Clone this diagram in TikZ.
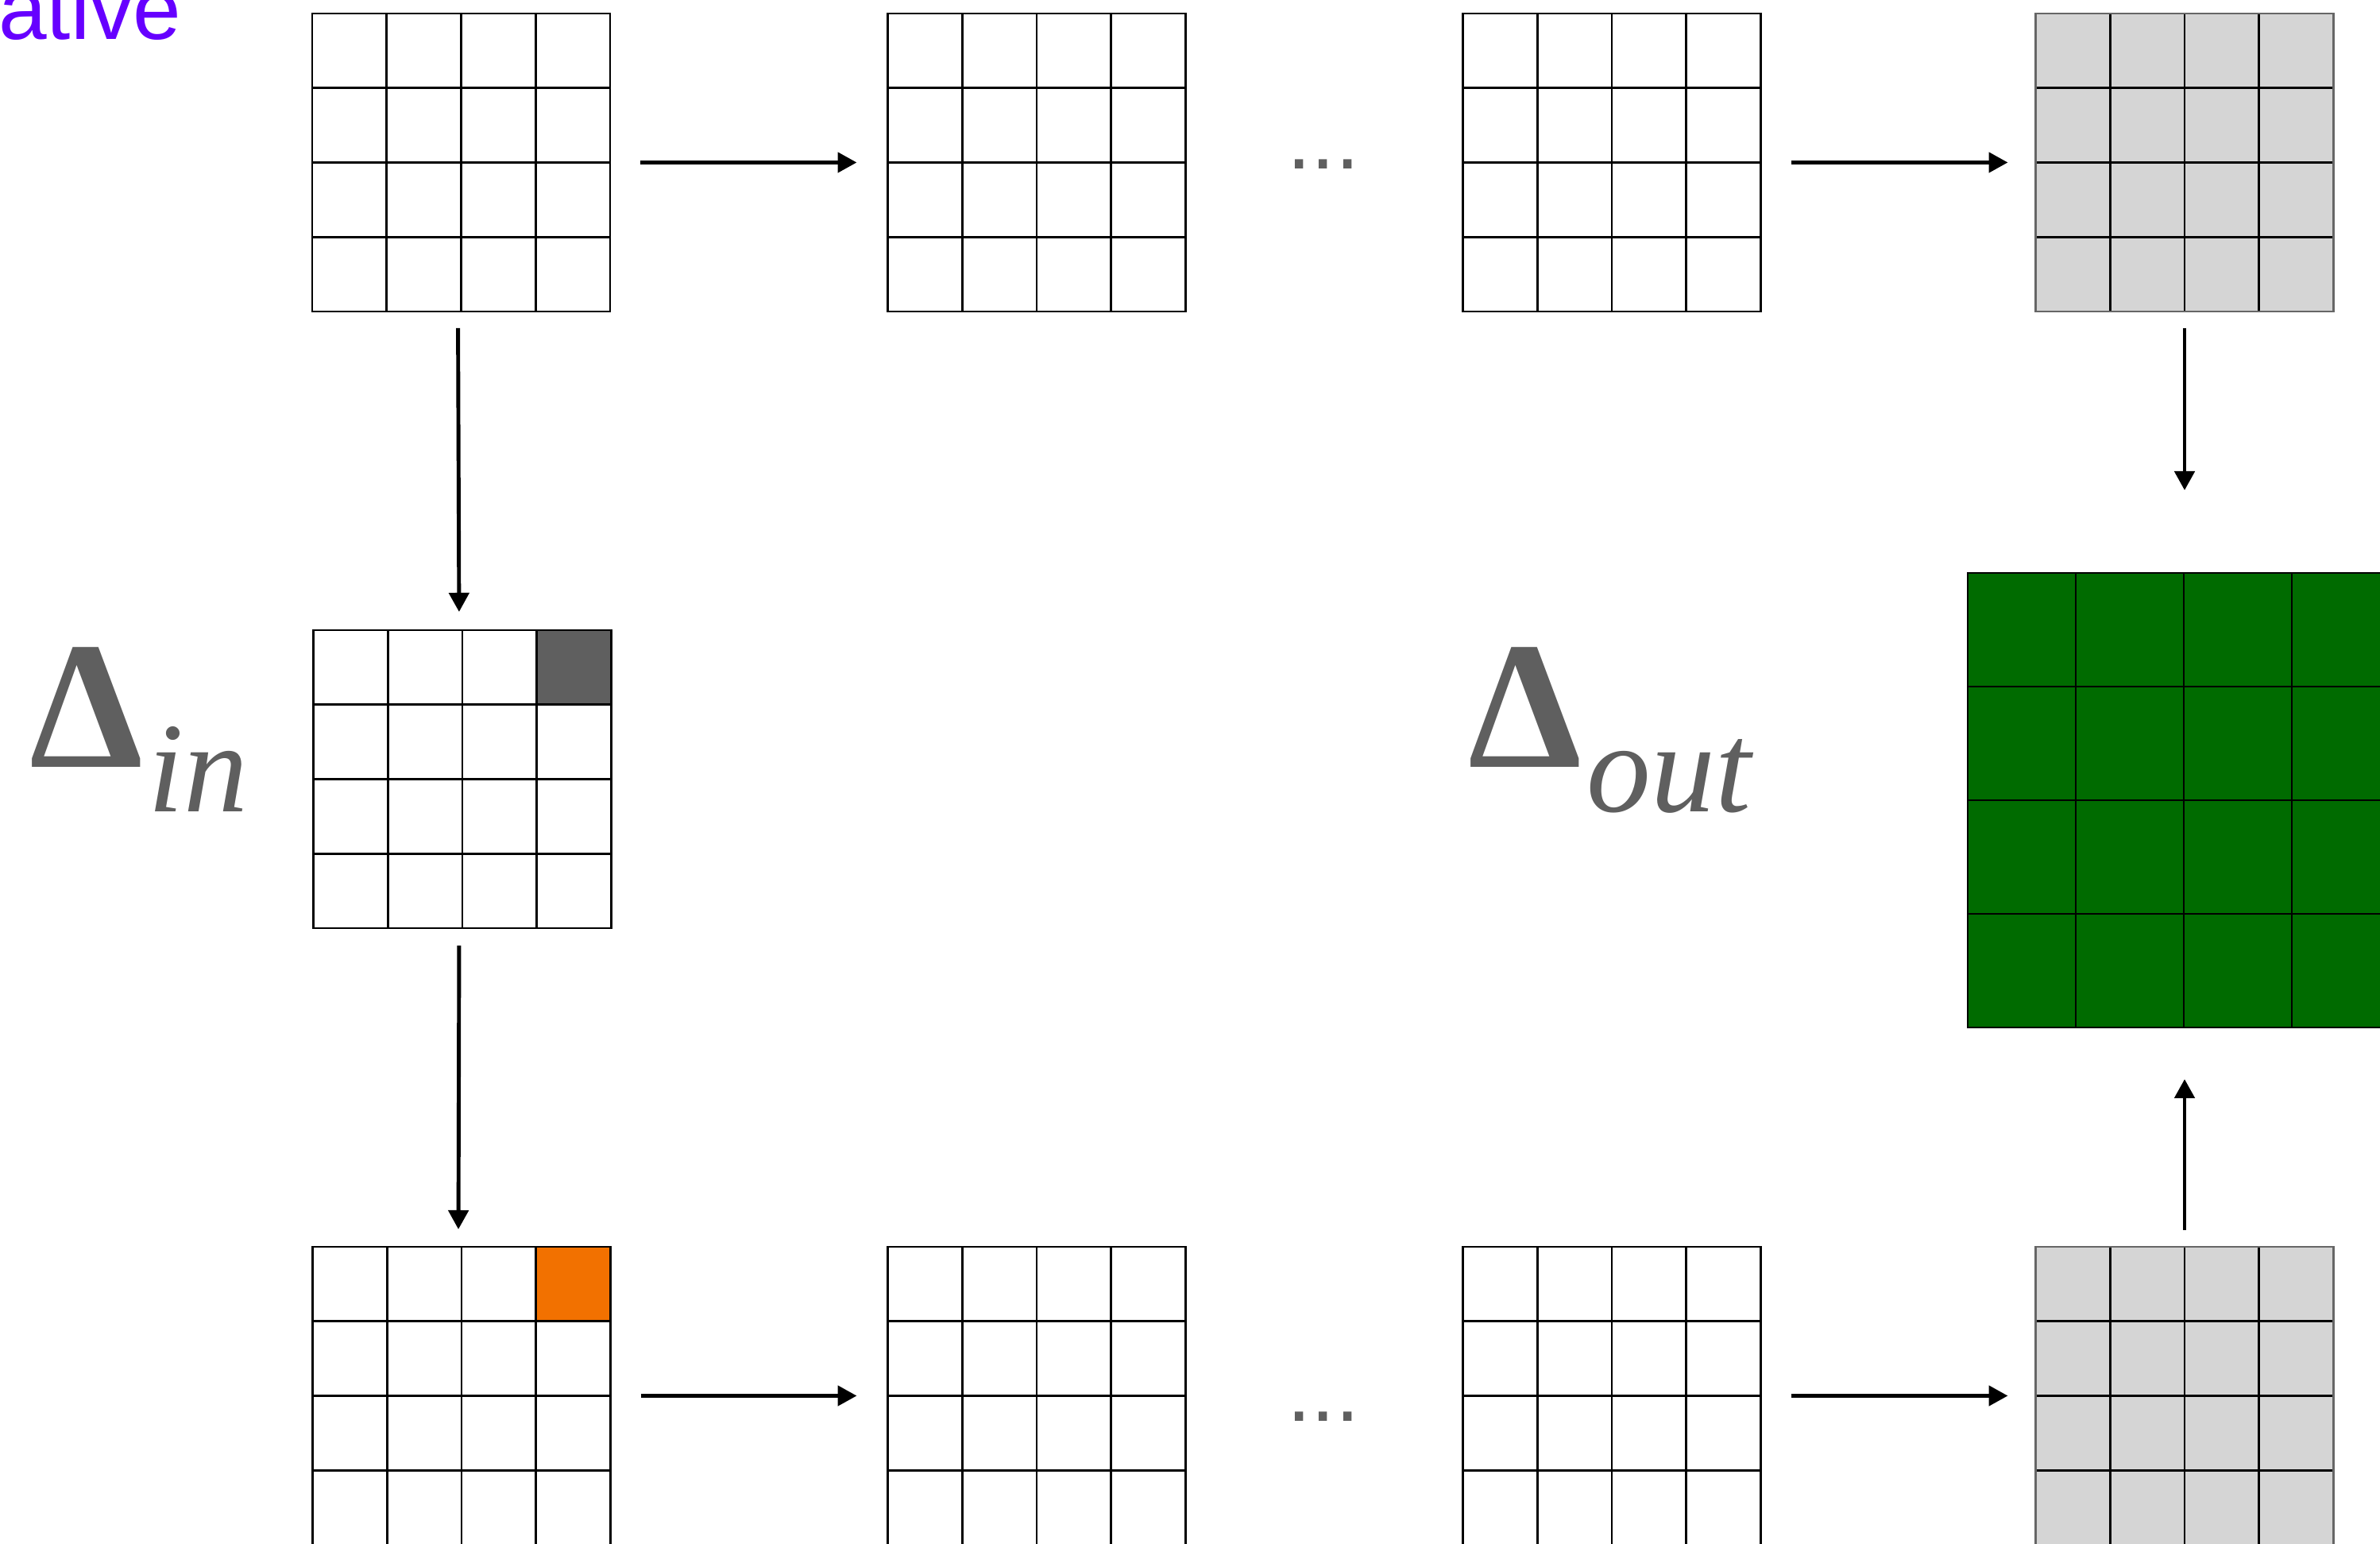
\documentclass[tikz,border=0pt]{standalone}
\usepackage{fontspec}
\setmainfont{Liberation Serif}
\newfontfamily\sansfont{Liberation Sans}
\usetikzlibrary{arrows.meta,calc}

\definecolor{violetink}{RGB}{102,0,255}
\definecolor{labelgray}{RGB}{95,95,95}
\definecolor{darkcell}{RGB}{95,95,95}
\definecolor{hotcell}{RGB}{242,113,0}
\definecolor{cellgray}{RGB}{213,213,213}
\definecolor{rimgray}{RGB}{102,102,102}
\definecolor{leafgreen}{RGB}{0,107,0}

\begin{document}
\begin{tikzpicture}[
    cell grid/.style={draw=black, line width=0.8pt, minimum size=3.75cm,
        inner sep=0pt, outer sep=0pt,
        path picture={
            \foreach \k in {1,2,3} {
                \draw[black, line width=0.8pt]
                    ($(path picture bounding box.south west)!\k/4!(path picture bounding box.south east)$) --
                    ($(path picture bounding box.north west)!\k/4!(path picture bounding box.north east)$);
                \draw[black, line width=0.8pt]
                    ($(path picture bounding box.south west)!\k/4!(path picture bounding box.north west)$) --
                    ($(path picture bounding box.south east)!\k/4!(path picture bounding box.north east)$);
            }
        }},
    gray grid/.style={draw=rimgray, fill=cellgray},
    flow/.style={-{Triangle[length=2.4mm,width=2.5mm]}, line width=1.4pt},
    delta label/.style={labelgray, anchor=base west, inner sep=0pt}]

    % --- 定义坐标和参数 ---
    \def\cs{0.9375}   % cell side
    \def\yT{17.385}   % top row
    \def\yM{9.625}    % middle row
    \def\yB{1.865}    % bottom row

    \useasboundingbox (0,0) rectangle (29.96,19.43);

    % --- top row ---
    \node[cell grid] (t1) at (5.805,\yT) {};
    \node[cell grid] (t2) at (13.05,\yT) {};
    \node[cell grid] (t3) at (20.29,\yT) {};
    \node[cell grid, gray grid] (t4) at (27.50,\yT) {};

    % --- middle row ---
    \node[cell grid] (m1) at (5.82,\yM) {};
    \draw[line width=0.8pt, fill=darkcell] (m1.north east) rectangle ++(-\cs,-\cs);

    % output grid (green)
    \node[cell grid, fill=leafgreen, minimum width=5.44cm, minimum height=5.72cm] (out) at (27.49,9.36) {};

    % --- bottom row ---
    \node[cell grid] (b1) at (5.81,\yB) {};
    \draw[line width=0.8pt, fill=hotcell] (b1.north east) rectangle ++(-\cs,-\cs);
    \node[cell grid] (b2) at (13.05,\yB) {};
    \node[cell grid] (b3) at (20.29,\yB) {};
    \node[cell grid, gray grid] (b4) at (27.50,\yB) {};

    % --- arrows ---
    \draw[flow, shorten <=0.38cm, shorten >=0.39cm] (t1.east) -- (t2.west);
    \draw[flow, shorten <=0.38cm, shorten >=0.35cm] (t3.east) -- (t4.west);
    \draw[flow, shorten <=0.38cm, shorten >=0.39cm] (b1.east) -- (b2.west);
    \draw[flow, shorten <=0.38cm, shorten >=0.35cm] (b3.east) -- (b4.west);

    \draw[flow, shorten <=0.21cm, shorten >=0.23cm] ([xshift=-0.04cm]t1.south) -- ([xshift=-0.04cm]m1.north);
    \draw[flow, shorten <=0.22cm, shorten >=0.22cm] ([xshift=-0.04cm]m1.south) -- ([xshift=-0.04cm]b1.north);

    % into the output grid
    \coordinate (intoOut) at (27.50,13.26);
    \coordinate (upOut) at (27.50,5.85);
    \draw[flow, shorten <=0.21cm] (t4.south) -- (intoOut);
    \draw[flow, shorten <=0.21cm] (b4.north) -- (upOut);

    % --- dots ---
    \node[labelgray, anchor=base, inner sep=0pt, font=\sansfont\fontsize{31}{36}\selectfont] (dotsT) at (16.66,17.30) {...};
    \node[labelgray, anchor=base, inner sep=0pt, font=\sansfont\fontsize{31}{36}\selectfont] (dotsB) at (16.66,1.54) {...};

    % --- labels ---
    \node[delta label] (din) at (0.37,9.77)
        {\fontsize{65}{70}\selectfont\bfseries Δ\hspace{0.06cm}\raisebox{-0.56cm}{\fontsize{46}{50}\selectfont\mdseries\itshape in}};
    \node[delta label] (dout) at (18.48,9.77)
        {\fontsize{65}{70}\selectfont\bfseries Δ\hspace{0.06cm}\raisebox{-0.56cm}{\fontsize{46}{50}\selectfont\mdseries\itshape out}};

    % title (cut at the page edge)
    \node[violetink, anchor=base east, inner sep=0pt, font=\sansfont\fontsize{31}{36}\selectfont] (title) at (2.29,18.93) {vative};

\end{tikzpicture}
\end{document}
